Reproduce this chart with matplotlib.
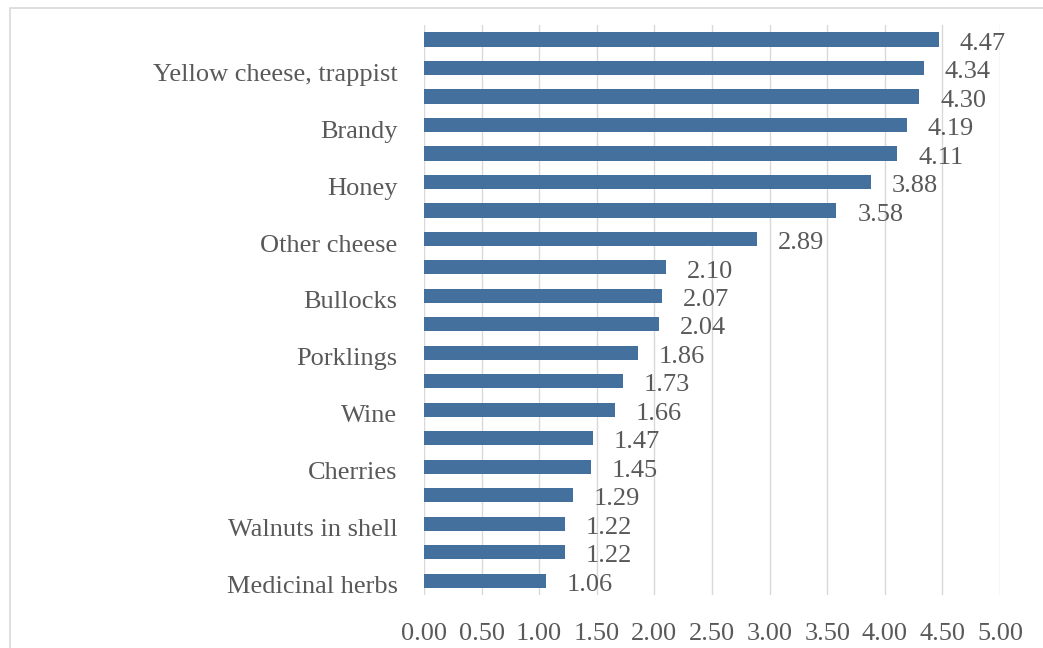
import matplotlib.pyplot as plt
from matplotlib.patches import Rectangle
from matplotlib.transforms import ScaledTranslation

# categories from top to bottom (Excel only shows every second label)
labels = ["", "Yellow cheese, trappist", "", "Brandy", "", "Honey", "",
          "Other cheese", "", "Bullocks", "", "Porklings", "", "Wine", "",
          "Cherries", "", "Walnuts in shell", "", "Medicinal herbs"]
values = [4.47, 4.34, 4.30, 4.19, 4.11, 3.88, 3.58, 2.89, 2.10, 2.07,
          2.04, 1.86, 1.73, 1.66, 1.47, 1.45, 1.29, 1.22, 1.22, 1.06]
xticks = [0, 0.5, 1, 1.5, 2, 2.5, 3, 3.5, 4, 4.5, 5]

plt.rcParams['font.family'] = ['Liberation Serif', 'DejaVu Serif']
txt = '#595959'
fs = 19

fig = plt.figure(figsize=(10.43, 6.48), dpi=100)
ax = fig.add_axes([0.4065, 0.082, 0.5523, 0.879])

# light chart frame, cut off at right/bottom like the screenshot
fig.patches.append(Rectangle((10 / 1043, -0.1), 1.2, 1 - 8 / 648 + 0.1,
                             transform=fig.transFigure, fill=False,
                             edgecolor='#d9d9d9', linewidth=1.2))

y = list(range(len(values)))
bars = ax.barh(y, values, height=0.5, color='#44709d')
vlabels = ax.bar_label(bars, labels=[f"{v:.2f}" for v in values], padding=14,
                       fontsize=fs, color=txt)
for t in vlabels:
    t.xyann = (15, -3)  # sits a little below the bar centre, like Excel

ax.set_ylim(19.5, -0.5)
ax.set_xlim(0, 5)
ax.set_yticks(y)
ax.set_yticklabels(labels)
ax.set_xticks(xticks)
ax.set_xticklabels([f"{t:.2f}" for t in xticks])
ax.tick_params(axis='both', length=0, labelsize=fs, labelcolor=txt)
ax.tick_params(axis='y', pad=19)
ax.tick_params(axis='x', pad=20)
down = ScaledTranslation(0, -3 / 72, fig.dpi_scale_trans)
for t in ax.get_yticklabels():
    t.set_transform(t.get_transform() + down)
ax.grid(axis='x', color='#d9d9d9', linewidth=1)
ax.set_axisbelow(True)
for s in ax.spines.values():
    s.set_visible(False)

fig.savefig('out.png', dpi=100)
